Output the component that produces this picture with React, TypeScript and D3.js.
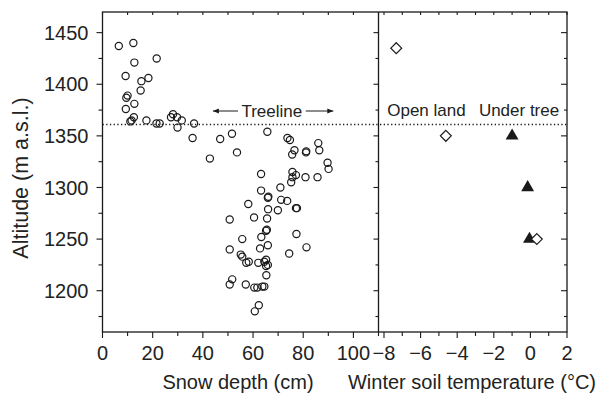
import React from "react";
import * as d3 from "d3";

const snowDepth = [6.5, 12.3, 12.7, 21.6, 9.2, 15.5, 18.3, 15.2, 10.0, 9.5, 12.7, 9.3, 12.5, 11.6, 11.1, 17.5, 21.5, 22.8, 28.1, 27.3, 29.7, 31.6, 29.9, 36.5, 35.9, 42.8, 46.9, 51.6, 53.6, 50.7, 65.7, 73.7, 74.7, 86.0, 86.4, 76.5, 75.6, 81.2, 81.1, 89.7, 90.1, 63.2, 75.7, 77.1, 75.7, 75.2, 80.9, 85.7, 70.9, 63.2, 66.1, 65.9, 58.1, 71.2, 73.6, 66.0, 69.9, 77.5, 77.1, 60.4, 65.6, 65.5, 65.2, 63.3, 55.7, 77.3, 50.7, 62.8, 65.9, 81.3, 74.4, 55.1, 55.7, 57.3, 58.3, 62.1, 64.5, 65.2, 65.9, 65.2, 65.3, 51.7, 50.7, 57.1, 60.5, 61.7, 63.7, 64.5, 62.3, 60.7];
const snowAltitude = [1437, 1440, 1421, 1425, 1408, 1403, 1406, 1394, 1389, 1387, 1381, 1376, 1368, 1365, 1364, 1365, 1362, 1362, 1371, 1368, 1368, 1365, 1358, 1362, 1348, 1328, 1347, 1352, 1334, 1269, 1354, 1348, 1346, 1343, 1336, 1336, 1332, 1335, 1334, 1324, 1318, 1313, 1315, 1312, 1310, 1305, 1310, 1310, 1300, 1297, 1291, 1290, 1284, 1288, 1287, 1279, 1278, 1280, 1280, 1271, 1270, 1259, 1258, 1252, 1250, 1255, 1240, 1241, 1244, 1242, 1236, 1235, 1233, 1227, 1228, 1227, 1228, 1230, 1225, 1224, 1215, 1211, 1206, 1206, 1203, 1203, 1204, 1204, 1186, 1180];

const openLandTemp = [-7.33, -4.62, 0.35];
const openLandAlt = [1435, 1350, 1250];
const underTreeTemp = [-1.0, -0.15, -0.05];
const underTreeAlt = [1350, 1300, 1250];

const altTicks = [1200, 1250, 1300, 1350, 1400, 1450];
const snowTicks = [0, 20, 40, 60, 80, 100];
const tempTicks = [-8, -6, -4, -2, 0, 2];
const treelineAlt = 1361;

const FONT = "'Liberation Sans', Arial, Helvetica, sans-serif";

export default function App() {
  const top = 12, bottom = 332, left = 102.5, mid = 378.5, right = 567;
  const y = d3.scaleLinear().domain([1160, 1470]).range([bottom, top]);
  const xs = d3.scaleLinear().domain([0, 110]).range([left, mid]);
  const xt = d3.scaleLinear().domain([-8.3, 2]).range([mid, right]);

  const altMinor = d3.range(1175, 1470, 25);
  const snowMinor = d3.range(0, 111, 10);
  const tempMinor = d3.range(-8, 2.01, 1);

  const diamond = d3.symbol().type(d3.symbolDiamond2).size(75)();
  const tri = d3.symbol().type(d3.symbolTriangle).size(72)();

  const stroke = "#1a1a1a";
  const text = "#222";
  const treelineY = y(treelineAlt);
  const arrowY = 111;

  return (
    <svg width={598} height={396} style={{ position: "fixed", left: 0, top: 0, background: "#fff" }} fontFamily={FONT}>
      <defs>
        <marker id="ah" viewBox="0 0 10 10" refX="10" refY="5" markerWidth="7" markerHeight="6" orient="auto-start-reverse" markerUnits="userSpaceOnUse">
          <path d="M0,1 L10,5 L0,9 Z" fill={stroke} />
        </marker>
      </defs>
      <rect x={left} y={top} width={right - left} height={bottom - top} fill="none" stroke={stroke} strokeWidth={1.3} />
      <line x1={mid} x2={mid} y1={top} y2={bottom} stroke={stroke} strokeWidth={1.3} />

      {altMinor.map((a) => {
        const major = a % 50 === 0;
        return <line key={"l" + a} x1={left} x2={left - (major ? 6 : 4)} y1={y(a)} y2={y(a)} stroke={stroke} strokeWidth={1.1} />;
      })}
      {altMinor.map((a) => {
        const major = a % 50 === 0;
        return <line key={"m" + a} x1={mid} x2={mid - (major ? 5 : 3)} y1={y(a)} y2={y(a)} stroke={stroke} strokeWidth={1.1} />;
      })}
      {altMinor.map((a) => {
        const major = a % 50 === 0;
        return <line key={"r" + a} x1={right} x2={right - (major ? 6 : 3)} y1={y(a)} y2={y(a)} stroke={stroke} strokeWidth={1.1} />;
      })}
      {altTicks.map((a) => (
        <text key={"lt" + a} x={88.5} y={y(a)} dy="0.36em" textAnchor="end" fontSize={20} fill={text}>{a}</text>
      ))}

      {snowMinor.map((s) => {
        const major = s % 20 === 0;
        return (
          <g key={"s" + s}>
            <line x1={xs(s)} x2={xs(s)} y1={bottom} y2={bottom + (major ? 6 : 4)} stroke={stroke} strokeWidth={1.1} />
            <line x1={xs(s)} x2={xs(s)} y1={top} y2={top + 3} stroke={stroke} strokeWidth={1.1} />
          </g>
        );
      })}
      {snowTicks.map((s) => (
        <text key={"st" + s} x={xs(s)} y={360} textAnchor="middle" fontSize={20} fill={text}>{s}</text>
      ))}

      {tempMinor.map((t) => {
        const major = Math.round(t) % 2 === 0;
        return (
          <g key={"t" + t}>
            <line x1={xt(t)} x2={xt(t)} y1={bottom} y2={bottom + (major ? 6 : 4)} stroke={stroke} strokeWidth={1.1} />
            <line x1={xt(t)} x2={xt(t)} y1={top} y2={top + 3} stroke={stroke} strokeWidth={1.1} />
          </g>
        );
      })}
      {tempTicks.map((t) => (
        <text key={"tt" + t} x={xt(t)} y={360} textAnchor="middle" fontSize={20} fill={text}>{t < 0 ? "\u2212" + Math.abs(t) : t}</text>
      ))}

      <text x={238} y={389} textAnchor="middle" fontSize={20} fill={text}>Snow depth (cm)</text>
      <text x={472} y={389} textAnchor="middle" fontSize={20} fill={text}>Winter soil temperature (°C)</text>
      <text transform={`translate(28,178) rotate(-90)`} textAnchor="middle" fontSize={21.5} fill={text}>Altitude (m a.s.l.)</text>

      <line x1={left} x2={right} y1={treelineY} y2={treelineY} stroke={stroke} strokeWidth={1.3} strokeDasharray="1.3 2.4" />
      <text x={xs(67.5)} y={arrowY} dy="0.35em" textAnchor="middle" fontSize={17} fill={text}>Treeline</text>
      <line x1={xs(54)} x2={xs(44)} y1={arrowY} y2={arrowY} stroke={stroke} strokeWidth={1} markerEnd="url(#ah)" />
      <line x1={xs(81)} x2={xs(92)} y1={arrowY} y2={arrowY} stroke={stroke} strokeWidth={1} markerEnd="url(#ah)" />

      <text x={xt(-5.68)} y={110} dy="0.35em" textAnchor="middle" fontSize={17} fill={text}>Open land</text>
      <text x={xt(-0.62)} y={110} dy="0.35em" textAnchor="middle" fontSize={17} fill={text}>Under tree</text>

      {snowDepth.map((s, i) => (
        <circle key={"p" + i} cx={xs(s)} cy={y(snowAltitude[i])} r={3.6} fill="none" stroke={stroke} strokeWidth={1.2} />
      ))}

      {underTreeTemp.map((t, i) => (
        <path key={"u" + i} d={tri!} transform={`translate(${xt(t)},${y(underTreeAlt[i])})`} fill={stroke} />
      ))}
      {openLandTemp.map((t, i) => (
        <path key={"o" + i} d={diamond!} transform={`translate(${xt(t)},${y(openLandAlt[i])})`} fill="#fff" stroke={stroke} strokeWidth={1.2} />
      ))}
    </svg>
  );
}
